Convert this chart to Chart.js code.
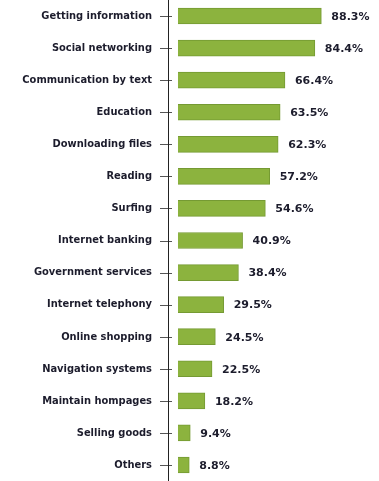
<!DOCTYPE html>
<html>
<head>
<meta charset="utf-8">
<script src="https://cdn.jsdelivr.net/npm/chart.js@4"></script>
<style>
html,body{margin:0;padding:0;background:#fff;}
#wrap{width:379px;height:481px;}
</style>
</head>
<body>
<div id="wrap"><canvas id="c" width="379" height="481"></canvas></div>
<script>
const categories = ["Getting information","Social networking","Communication by text","Education","Downloading files","Reading","Surfing","Internet banking","Government services","Internet telephony","Online shopping","Navigation systems","Maintain hompages","Selling goods","Others"];
const values = [88.3,84.4,66.4,63.5,62.3,57.2,54.6,40.9,38.4,29.5,24.5,22.5,18.2,9.4,8.8];
const valueLabels = values.map(v => v.toFixed(1) + "%");

const textColor = "#1c1c2c";
const condFamily = "'DejaVu Sans Condensed', 'DejaVu Sans', sans-serif";
const fontFamily = "'DejaVu Sans', Verdana, sans-serif";

const axisPlugin = {
  id: "axisPlugin",
  afterDatasetsDraw(chart) {
    const ctx = chart.ctx;
    const ys = chart.scales.y;
    const x0 = chart.chartArea.left;
    ctx.save();
    ctx.strokeStyle = "#555";
    ctx.lineWidth = 1;
    ys.ticks.forEach((t, i) => {
      const y = Math.round(ys.getPixelForTick(i)) + 0.5;
      ctx.beginPath();
      ctx.moveTo(x0 - 8, y);
      ctx.lineTo(x0 + 4, y);
      ctx.stroke();
    });
    ctx.strokeStyle = "#222";
    ctx.beginPath();
    ctx.moveTo(x0 + 0.5, 0);
    ctx.lineTo(x0 + 0.5, chart.height);
    ctx.stroke();
    // value labels
    const meta = chart.getDatasetMeta(0);
    ctx.fillStyle = textColor;
    ctx.font = "bold 11px " + fontFamily;
    ctx.textAlign = "left";
    ctx.textBaseline = "middle";
    meta.data.forEach((bar, i) => {
      ctx.fillText(valueLabels[i], bar.x + 10, bar.y + 1);
    });
    ctx.restore();
  }
};

new Chart(document.getElementById("c"), {
  type: "bar",
  data: {
    labels: categories,
    datasets: [{
      data: values,
      base: 2,
      backgroundColor: "#8cb33e",
      borderColor: "#759a33",
      borderWidth: 1,
      borderSkipped: "start",
      barThickness: 16
    }]
  },
  options: {
    indexAxis: "y",
    responsive: false,
    animation: false,
    layout: { padding: 0 },
    plugins: { legend: { display: false }, tooltip: { enabled: false } },
    scales: {
      x: { display: false, min: -4, max: 123 },
      y: {
        grid: { display: false },
        border: { display: false },
        ticks: {
          padding: 8,
          color: textColor,
          font: { family: condFamily, size: 11, weight: "bold" }
        },
        afterFit(s) { s.width = 168; s.paddingTop = 0; s.paddingBottom = 0; }
      }
    }
  },
  plugins: [axisPlugin]
});
</script>
</body>
</html>
